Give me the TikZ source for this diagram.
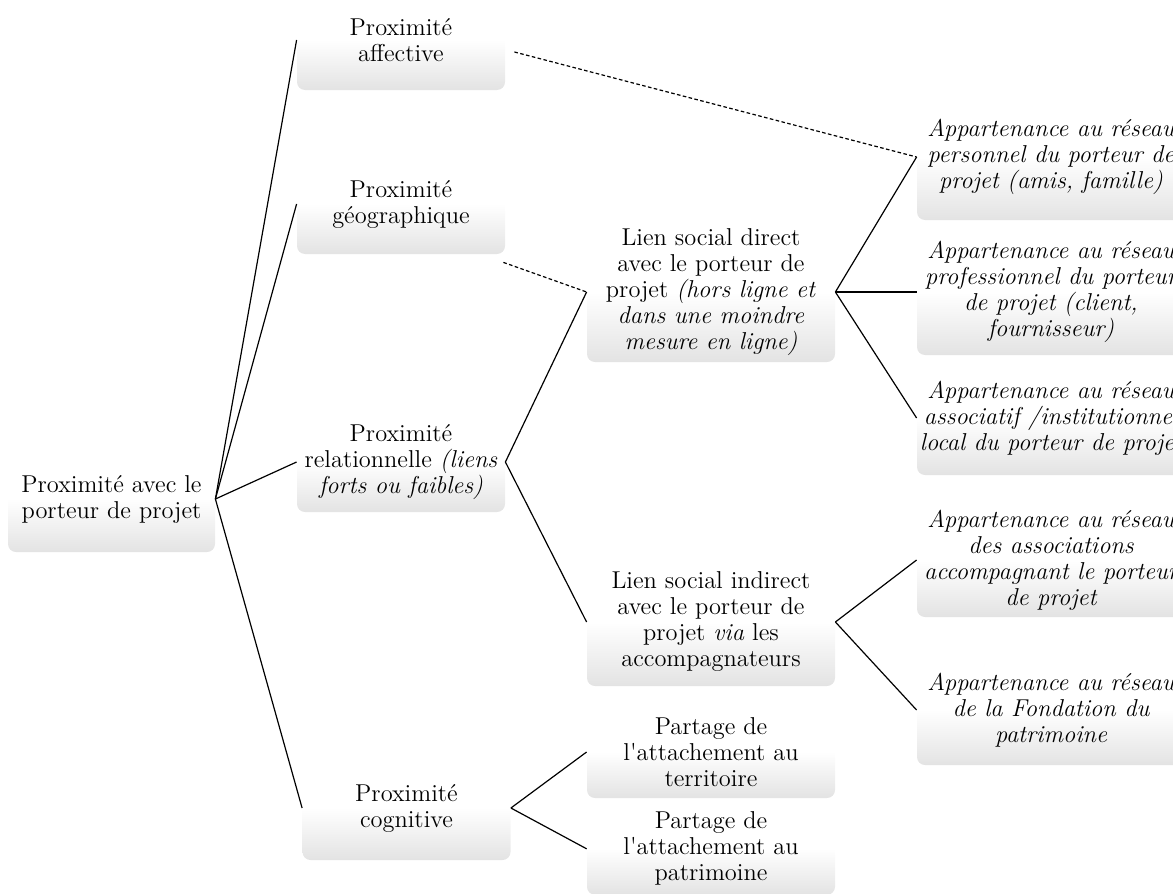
\documentclass[tikz,border=0pt]{standalone}
\usepackage{tikz}
\usetikzlibrary{positioning}

\begin{document}
\begin{tikzpicture}[x=0.5pt, y=-0.5pt,
  card/.style={rounded corners=4pt, top color=white, bottom color=black!11, middle color=white,
               align=center, inner sep=0pt, font=\fontsize{12.2}{13}\selectfont},
  prox/.style={card, minimum width=104pt, minimum height=50pt},
  lien/.style={card, minimum width=124pt},
  reseau/.style={card, minimum width=134pt, font=\fontsize{12.2}{13}\selectfont\itshape},
  conn/.style={line width=0.6pt, black},
  conndash/.style={conn, dash pattern=on 1.8pt off 1.2pt}]

\path[use as bounding box, clip] (0,0) rectangle (1173,894);

\node[card, minimum width=103.5pt, minimum height=53pt] (root) at (111.5,499) {Proximité avec le\\porteur de projet};

% first level
\node[prox] (aff) at (401,40) {Proximité\\affective};
\node[prox] (geo) at (401,204) {Proximité\\géographique};
\node[prox] (rel) at (401,462) {Proximité\\relationnelle \textit{(liens}\\\textit{forts ou faibles)}};
\node[prox, minimum height=52pt] (cog) at (406.5,808) {Proximité\\cognitive};

% second level
\node[lien, minimum height=70pt] (direct) at (711,292) {Lien social direct\\avec le porteur de\\projet \textit{(hors ligne et}\\\textit{dans une moindre}\\\textit{mesure en ligne)}};
\node[lien, minimum height=64pt] (indirect) at (711,622) {Lien social indirect\\avec le porteur de\\projet \textit{via} les\\accompagnateurs};
\node[lien, minimum height=46pt] (terr) at (711,752) {Partage de\\l\textquotesingle attachement au\\territoire};
\node[lien, minimum height=46pt, below=2pt of terr] (pat) {Partage de\\l\textquotesingle attachement au\\patrimoine};

% networks
\node[reseau, minimum height=63pt] (app1) at (1051,157) {Appartenance au réseau\\personnel du porteur de\\projet (amis, famille)};
\node[reseau, minimum height=63pt] (app2) at (1051,292) {Appartenance au réseau\\professionnel du porteur\\de projet (client,\\fournisseur)};
\node[reseau, minimum height=57pt] (app3) at (1051,418) {Appartenance au réseau\\associatif /institutionnel\\local du porteur de projet};
\node[reseau, minimum height=57pt] (app4) at (1051,560) {Appartenance au réseau\\des associations\\accompagnant le porteur\\de projet};
\node[reseau, minimum height=55pt] (app5) at (1051,710) {Appartenance au réseau\\de la Fondation du\\patrimoine};

\foreach \c in {aff,geo,rel,cog} \draw[conn] (root.east) -- (\c.west);
\foreach \c in {direct,indirect} \draw[conn] (rel.east) -- (\c.west);
\foreach \c in {terr,pat} \draw[conn] (cog.east) -- (\c.west);
\foreach \c in {app1,app2,app3} \draw[conn] (direct.east) -- (\c.west);
\foreach \c in {app4,app5} \draw[conn] (indirect.east) -- (\c.west);

\draw[conndash] ([shift={(9,12)}]aff.east) -- (app1.west);
\draw[conndash] ([shift={(-2,8)}]geo.south east) -- (direct.west);
\end{tikzpicture}
\end{document}
